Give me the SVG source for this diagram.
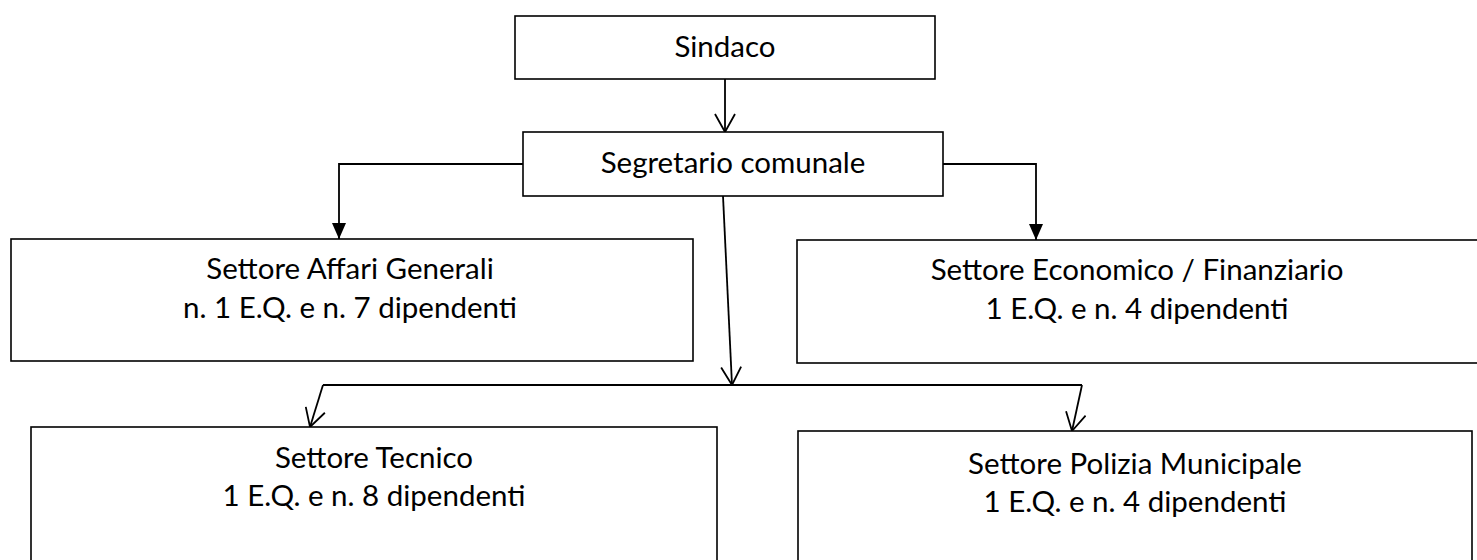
<svg xmlns="http://www.w3.org/2000/svg" width="1477" height="560" viewBox="0 0 1477 560">
<defs>
<style>
.box{fill:#fff;stroke:#000;stroke-width:1.6}
.lbl{font-family:Lato,"Open Sans","Liberation Sans",sans-serif;font-size:29.5px;fill:#000;text-anchor:middle}
.con{fill:none;stroke:#000;stroke-width:1.8}
</style>
<marker id="open" viewBox="0 0 20 22" refX="19" refY="11" markerWidth="20" markerHeight="22" markerUnits="userSpaceOnUse" orient="auto">
<path d="M1,1 L19,11 L1,21" fill="none" stroke="#000" stroke-width="1.8"/>
</marker>
<marker id="fill" viewBox="0 0 16 14" refX="16" refY="7" markerWidth="16" markerHeight="14" markerUnits="userSpaceOnUse" orient="auto">
<path d="M0,0 L16,7 L0,14 z" fill="#000"/>
</marker>
</defs>
<rect width="1477" height="560" fill="#fff"/>
<g id="connectors">
<line class="con" x1="725" y1="79" x2="725" y2="132" marker-end="url(#open)"/>
<polyline class="con" points="523,164 339,164 339,239" marker-end="url(#fill)"/>
<polyline class="con" points="943,164 1036,164 1036,240" marker-end="url(#fill)"/>
<line class="con" x1="723" y1="196" x2="732" y2="385" marker-end="url(#open)"/>
<line class="con" x1="323" y1="385" x2="1082" y2="385"/>
<line class="con" x1="323" y1="385" x2="310" y2="427" marker-end="url(#open)"/>
<line class="con" x1="1082" y1="385" x2="1072" y2="431" marker-end="url(#open)"/>
</g>
<g id="sindaco">
<rect class="box" x="515" y="16" width="420" height="63"/>
<text class="lbl" x="725" y="57">Sindaco</text>
</g>
<g id="segretario">
<rect class="box" x="523" y="132" width="420" height="64"/>
<text class="lbl" x="733" y="173">Segretario comunale</text>
</g>
<g id="affari">
<rect class="box" x="11" y="239" width="682" height="122"/>
<text class="lbl" x="350" y="279">Settore Affari Generali</text>
<text class="lbl" x="350" y="318">n. 1 E.Q. e n. 7 dipendenti</text>
</g>
<g id="economico">
<rect class="box" x="797" y="240" width="682" height="123"/>
<text class="lbl" x="1137" y="280">Settore Economico / Finanziario</text>
<text class="lbl" x="1137" y="319">1 E.Q. e n. 4 dipendenti</text>
</g>
<g id="tecnico">
<rect class="box" x="31" y="427" width="686" height="140"/>
<text class="lbl" x="374" y="468">Settore Tecnico</text>
<text class="lbl" x="374" y="506">1 E.Q. e n. 8 dipendenti</text>
</g>
<g id="polizia">
<rect class="box" x="798" y="431" width="674" height="140"/>
<text class="lbl" x="1135" y="474">Settore Polizia Municipale</text>
<text class="lbl" x="1135" y="512">1 E.Q. e n. 4 dipendenti</text>
</g>
</svg>
